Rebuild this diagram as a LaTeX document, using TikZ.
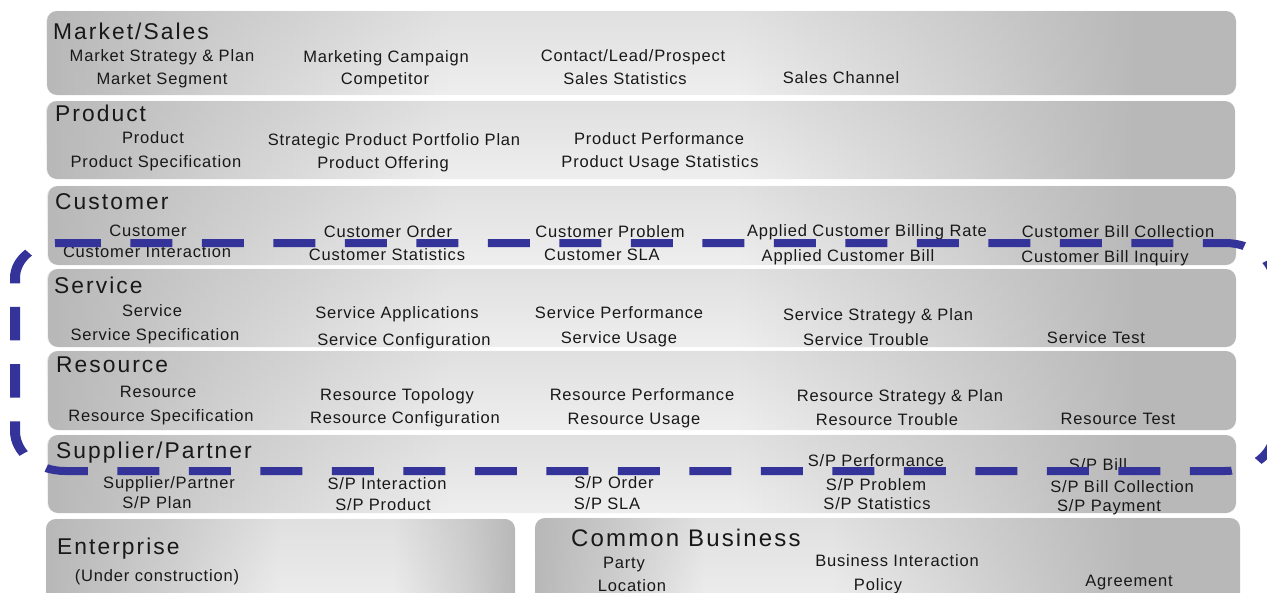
\documentclass[tikz,border=0pt]{standalone}
\usepackage{fontspec}
\setmainfont{Liberation Sans}[LetterSpace=5]
\newfontfamily\titlefont{Liberation Sans}[LetterSpace=9]
\usetikzlibrary{fadings}
\definecolor{bandgray}{RGB}{184,184,184}
\definecolor{bandmid}{RGB}{212,212,212}
\definecolor{bandlight}{RGB}{246,246,246}
\definecolor{scopeblue}{RGB}{51,51,153}
\definecolor{textgray}{RGB}{24,24,24}
\pgfdeclarehorizontalshading{bandshade}{100bp}{color(0bp)=(bandgray); color(25bp)=(bandgray); color(32bp)=(bandmid); color(42bp)=(bandlight); color(54bp)=(bandlight); color(64bp)=(bandmid); color(71bp)=(bandgray); color(100bp)=(bandgray)}
\pgfdeclarehorizontalshading{entshade}{100bp}{color(0bp)=(bandgray); color(25bp)=(bandgray); color(38bp)=(bandmid); color(50bp)=(bandlight); color(62bp)=(bandlight); color(70bp)=(bandmid); color(75bp)=(bandgray); color(100bp)=(bandgray)}
\pgfdeclarehorizontalshading{cbshade}{100bp}{color(0bp)=(bandgray); color(25bp)=(bandgray); color(31bp)=(bandmid); color(37bp)=(bandlight); color(46bp)=(bandlight); color(58bp)=(bandmid); color(68bp)=(bandgray); color(100bp)=(bandgray)}
\tikzfading[name=bandtop, top color=transparent!65, middle color=transparent!100, bottom color=transparent!88]

\begin{document}
\begin{tikzpicture}[x=1pt,y=-1pt,
  band/.style={rounded corners=10pt, shade, shading=#1, postaction={fill=black!28, path fading=bandtop}},
  band/.default=bandshade,
  title/.style={anchor=base west, inner sep=0pt, text=textgray, font=\titlefont\fontsize{22.8}{25}\selectfont},
  item/.style={anchor=base, inner sep=0pt, text=textgray, font=\fontsize{16.5}{18}\selectfont},
  boundary/.style={draw=scopeblue, line width=8pt, dash pattern=on 33.6pt off 23.6pt}]
\useasboundingbox (0,0) rectangle (1267,592);
%Drawing bands
\path[band] (47,11) rectangle (1236,95);
\path[band] (47,101) rectangle (1235,179);
\path[band] (48,186) rectangle (1236,265);
\path[band] (48,269) rectangle (1236,347);
\path[band] (48,351) rectangle (1236,430);
\path[band] (48,435) rectangle (1236,513);
\path[band=entshade] (46,519) rectangle (515,610);
\path[band=cbshade] (535,518) rectangle (1240,610);
%Market/Sales
\node[title] (ms) at (53,39) {Market/Sales};
\node[item] (ms1) at (162,61) {Market Strategy \& Plan};
\node[item] (ms2) at (162,84) {Market Segment};
\node[item] (ms3) at (386,62) {Marketing Campaign};
\node[item] (ms4) at (385,84) {Competitor};
\node[item] (ms5) at (633,61) {Contact/Lead/Prospect};
\node[item] (ms6) at (625,84) {Sales Statistics};
\node[item] (ms7) at (841,83) {Sales Channel};
%Product
\node[title] (pr) at (55,121) {Product};
\node[item] (pr1) at (153,143) {Product};
\node[item] (pr2) at (156,167) {Product Specification};
\node[item] (pr3) at (394,145) {Strategic Product Portfolio Plan};
\node[item] (pr4) at (383,168) {Product Offering};
\node[item] (pr5) at (659,144) {Product Performance};
\node[item] (pr6) at (660,167) {Product Usage Statistics};
%Customer
\node[title] (cu) at (55,209) {Customer};
\node[item] (cu1) at (148,236) {Customer};
\node[item] (cu2) at (147,257) {Customer Interaction};
\node[item] (cu3) at (388,237) {Customer Order};
\node[item] (cu4) at (387,260) {Customer Statistics};
\node[item] (cu5) at (610,237) {Customer Problem};
\node[item] (cu6) at (602,260) {Customer SLA};
\node[item] (cu7) at (867,236) {Applied Customer Billing Rate};
\node[item] (cu8) at (848,261) {Applied Customer Bill};
\node[item] (cu9) at (1118,237) {Customer Bill Collection};
\node[item] (cu10) at (1105,262) {Customer Bill Inquiry};
%Service
\node[title] (se) at (54,293) {Service};
\node[item] (se1) at (152,316) {Service};
\node[item] (se2) at (155,340) {Service Specification};
\node[item] (se3) at (397,318) {Service Applications};
\node[item] (se4) at (404,345) {Service Configuration};
\node[item] (se5) at (619,318) {Service Performance};
\node[item] (se6) at (619,343) {Service Usage};
\node[item] (se7) at (878,320) {Service Strategy \& Plan};
\node[item] (se8) at (866,345) {Service Trouble};
\node[item] (se9) at (1096,343) {Service Test};
%Resource
\node[title] (re) at (56,372) {Resource};
\node[item] (re1) at (158,397) {Resource};
\node[item] (re2) at (161,421) {Resource Specification};
\node[item] (re3) at (397,400) {Resource Topology};
\node[item] (re4) at (405,423) {Resource Configuration};
\node[item] (re5) at (642,400) {Resource Performance};
\node[item] (re6) at (634,424) {Resource Usage};
\node[item] (re7) at (900,401) {Resource Strategy \& Plan};
\node[item] (re8) at (887,425) {Resource Trouble};
\node[item] (re9) at (1118,424) {Resource Test};
%Supplier/Partner
\node[title] (sp) at (56,458) {Supplier/Partner};
\node[item] (sp1) at (169,488) {Supplier/Partner};
\node[item] (sp2) at (157,508) {S/P Plan};
\node[item] (sp3) at (387,489) {S/P Interaction};
\node[item] (sp4) at (383,510) {S/P Product};
\node[item] (sp5) at (614,488) {S/P Order};
\node[item] (sp6) at (607,509) {S/P SLA};
\node[item] (sp7) at (876,466) {S/P Performance};
\node[item] (sp8) at (876,490) {S/P Problem};
\node[item] (sp9) at (877,509) {S/P Statistics};
\node[item] (sp10) at (1098,470) {S/P Bill};
\node[item] (sp11) at (1122,492) {S/P Bill Collection};
\node[item] (sp12) at (1109,511) {S/P Payment};
%Enterprise and Common Business
\node[title] (en) at (57,554) {Enterprise};
\node[item] (en1) at (157,581) {(Under construction)};
\node[title, font=\titlefont\fontsize{24}{26}\selectfont] (cb) at (571,546) {Common Business};
\node[item] (cb1) at (624,568) {Party};
\node[item] (cb2) at (632,591) {Location};
\node[item] (cb3) at (897,566) {Business Interaction};
\node[item] (cb4) at (878,590) {Policy};
\node[item] (cb5) at (1129,586) {Agreement};
%Drawing the dashed boundary
\begin{scope}[transform canvas={xscale=1.25}]
\draw[boundary, rounded corners=40pt] (47,243) -- (1020,243) -- (1020,471) -- (12,471) [rounded corners=35pt] -- (12,243) -- (47,243);
\end{scope}
\end{tikzpicture}
\end{document}
